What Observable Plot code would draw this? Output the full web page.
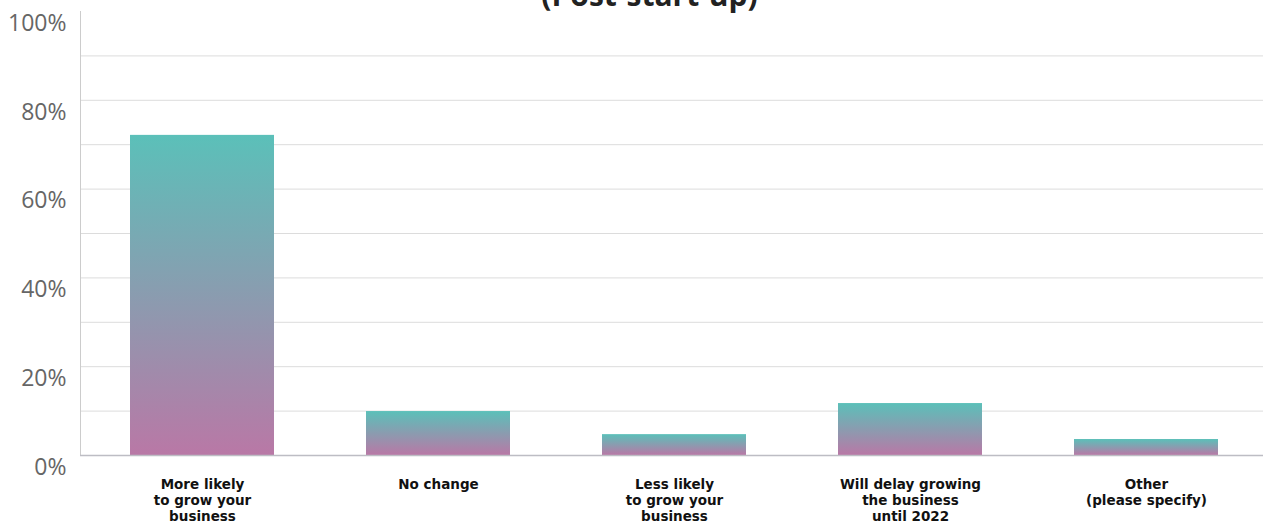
<!DOCTYPE html>
<html>
<head>
<meta charset="utf-8">
<script src="https://cdn.jsdelivr.net/npm/d3@7"></script>
<script src="https://cdn.jsdelivr.net/npm/@observablehq/plot@0.6"></script>
<style>
  html, body { margin: 0; padding: 0; background: #fff; overflow: hidden; }
  #wrap { position: relative; width: 1263px; height: 524px; }
  #title {
    position: absolute; left: 18px; top: -23px; width: 1263px; text-align: center;
    font-family: "Open Sans", "Noto Sans", sans-serif; font-weight: 700; font-size: 30px;
    color: #222; line-height: 36px;
  }
</style>
</head>
<body>
<div id="wrap">
  <div id="chart"></div>
  <div id="title">(Post-start-up)</div>
</div>
<script>
// Responses: how plans for growth changed after start-up
const categories = [
  "More likely\nto grow your\nbusiness",
  "No change",
  "Less likely\nto grow your\nbusiness",
  "Will delay growing\nthe business\nuntil 2022",
  "Other\n(please specify)"
];
const shares = [72.1, 9.9, 4.7, 11.7, 3.6];
const gridTicks = [10, 20, 30, 40, 50, 60, 70, 80, 90];
const labelTicks = [0, 20, 40, 60, 80, 100];

const rows = categories.map((c, i) => ({category: c, share: shares[i]}));

const chart = Plot.plot({
  width: 1263,
  height: 524,
  marginTop: 11,
  marginBottom: 69,
  marginLeft: 80,
  marginRight: 0,
  style: {background: "#fff"},
  x: {domain: categories, range: [82, 1265], paddingInner: 0.39, paddingOuter: 0.195},
  y: {domain: [0, 100]},
  marks: [
    // vertical teal-to-pink gradient, stretched over each bar's own box
    () => {
      const ns = "http://www.w3.org/2000/svg";
      const defs = document.createElementNS(ns, "defs");
      const g = document.createElementNS(ns, "linearGradient");
      g.setAttribute("id", "barGradient");
      g.setAttribute("x1", "0"); g.setAttribute("y1", "0");
      g.setAttribute("x2", "0"); g.setAttribute("y2", "1");
      [["0%", "#5bc0b9"], ["100%", "#b978a6"]].forEach(([o, c]) => {
        const s = document.createElementNS(ns, "stop");
        s.setAttribute("offset", o);
        s.setAttribute("stop-color", c);
        g.appendChild(s);
      });
      defs.appendChild(g);
      return defs;
    },
    Plot.gridY(gridTicks, {stroke: "#dcdcdc", strokeOpacity: 1}),
    Plot.frame({anchor: "left", stroke: "#cccccc"}),
    Plot.barY(rows, {x: "category", y: "share", fill: "url(#barGradient)"}),
    Plot.ruleY([0], {stroke: "#bdbdc4", strokeWidth: 1.5}),
    Plot.axisY(labelTicks, {
      tickSize: 0, tickPadding: 14, dy: 12,
      tickFormat: d => d + "%",
      fontSize: 23, fill: "#666",
      fontFamily: "Open Sans, sans-serif",
      label: null
    }),
    Plot.axisX({
      tickSize: 0, tickPadding: 22,
      fontSize: 13.5, fontWeight: "bold", fill: "#111",
      fontFamily: "DejaVu Sans, sans-serif", lineHeight: 1.18,
      label: null
    })
  ]
});
document.getElementById("chart").appendChild(chart);
</script>
</body>
</html>
